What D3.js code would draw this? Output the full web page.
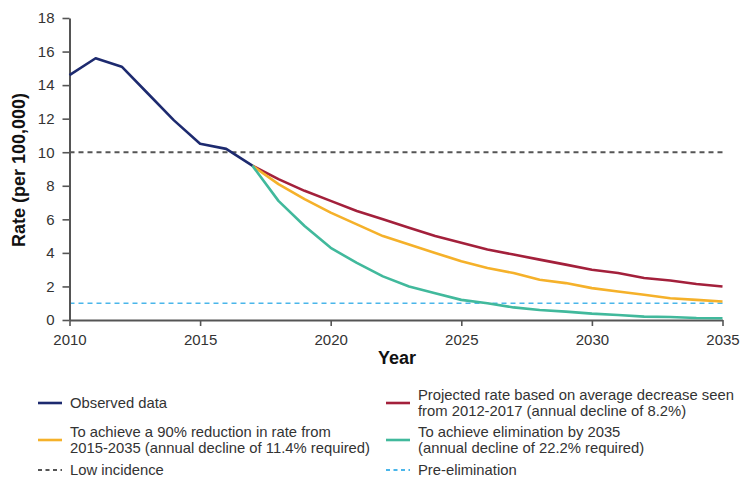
<!DOCTYPE html>
<html>
<head>
<meta charset="utf-8">
<script src="https://cdn.jsdelivr.net/npm/d3@7"></script>
<style>
  html, body { margin: 0; padding: 0; background: #fff; }
  svg { display: block; font-family: "Liberation Sans", Arial, Helvetica, sans-serif; }
</style>
</head>
<body>
<svg id="chart" width="744" height="477"></svg>
<script>
const observedYears = [2010, 2011, 2012, 2013, 2014, 2015, 2016, 2017];
const observedRates = [14.6, 15.6, 15.1, 13.5, 11.9, 10.5, 10.2, 9.2];

const projYears = [2017, 2018, 2019, 2020, 2021, 2022, 2023, 2024, 2025, 2026, 2027, 2028, 2029, 2030, 2031, 2032, 2033, 2034, 2035];
const projectedRates = [9.2, 8.4, 7.7, 7.1, 6.5, 6.0, 5.5, 5.0, 4.6, 4.2, 3.9, 3.6, 3.3, 3.0, 2.8, 2.5, 2.35, 2.15, 2.0];
const reduction90Rates = [9.2, 8.1, 7.2, 6.4, 5.7, 5.0, 4.5, 4.0, 3.5, 3.1, 2.8, 2.4, 2.2, 1.9, 1.7, 1.5, 1.3, 1.2, 1.1];
const eliminationRates = [9.2, 7.1, 5.6, 4.3, 3.4, 2.6, 2.0, 1.6, 1.2, 1.0, 0.75, 0.6, 0.5, 0.38, 0.3, 0.2, 0.18, 0.12, 0.1];

const lowIncidence = 10;
const preElimination = 1;

const xTicks = [2010, 2015, 2020, 2025, 2030, 2035];
const yTicks = [0, 2, 4, 6, 8, 10, 12, 14, 16, 18];

const legendLabels = [
  ["Observed data"],
  ["Projected rate based on average decrease seen", "from 2012-2017 (annual decline of 8.2%)"],
  ["To achieve a 90% reduction in rate from", "2015-2035 (annual decline of 11.4% required)"],
  ["To achieve elimination by 2035", "(annual decline of 22.2% required)"],
  ["Low incidence"],
  ["Pre-elimination"]
];

const C = {
  observed: "#1d2a6f",
  projected: "#a3203b",
  reduction: "#f5b12a",
  elimination: "#41b99c",
  low: "#555555",
  pre: "#4ab6ea",
  axis: "#555555",
  text: "#333333"
};

const svg = d3.select("#chart");
const x = d3.scaleLinear().domain([2010, 2035]).range([69.5, 722.5]);
const y = d3.scaleLinear().domain([0, 18]).range([320, 18]);

// Reference lines
svg.append("line")
  .attr("x1", x(2010)).attr("x2", x(2035))
  .attr("y1", y(lowIncidence)).attr("y2", y(lowIncidence))
  .attr("stroke", C.low).attr("stroke-width", 2).attr("stroke-dasharray", "5,4");
svg.append("line")
  .attr("x1", x(2010)).attr("x2", x(2035))
  .attr("y1", y(preElimination)).attr("y2", y(preElimination))
  .attr("stroke", C.pre).attr("stroke-width", 1.6).attr("stroke-dasharray", "5,4");

// Axes
const yAxis = svg.append("g").attr("transform", `translate(${x(2010)},0)`)
  .call(d3.axisLeft(y).tickValues(yTicks).tickSize(7).tickPadding(8).tickSizeOuter(0));
const xAxis = svg.append("g").attr("transform", `translate(0,${y(0)})`)
  .call(d3.axisBottom(x).tickValues(xTicks).tickFormat(d3.format("d")).tickSize(6).tickPadding(8).tickSizeOuter(0));
[yAxis, xAxis].forEach(g => {
  g.select(".domain").attr("stroke", C.axis).attr("stroke-width", 2);
  g.selectAll(".tick line").attr("stroke", C.axis).attr("stroke-width", 1.6);
  g.selectAll(".tick text").attr("fill", C.text).style("font-size", "15px")
    .style("font-family", "'Liberation Sans', Arial, sans-serif");
});

// Lines
const line = d3.line().x(d => x(d[0])).y(d => y(d[1]));
function drawSeries(years, vals, color) {
  svg.append("path")
    .datum(years.map((yr, i) => [yr, vals[i]]))
    .attr("d", line)
    .attr("fill", "none")
    .attr("stroke", color)
    .attr("stroke-width", 2.6)
    .attr("stroke-linejoin", "round");
}
drawSeries(projYears, projectedRates, C.projected);
drawSeries(projYears, reduction90Rates, C.reduction);
drawSeries(projYears, eliminationRates, C.elimination);
drawSeries(observedYears, observedRates, C.observed);

// Axis titles
svg.append("text")
  .attr("x", 397).attr("y", 364)
  .attr("text-anchor", "middle")
  .attr("font-weight", "bold").attr("font-size", 18).attr("fill", "#111")
  .text("Year");
svg.append("text")
  .attr("transform", "translate(25,170) rotate(-90)")
  .attr("text-anchor", "middle")
  .attr("font-weight", "bold").attr("font-size", 18).attr("fill", "#111")
  .text("Rate (per 100,000)");

// Legend
const legendItems = [
  { col: 0, y: 403, color: C.observed, dash: null, labels: legendLabels[0] },
  { col: 1, y: 403, color: C.projected, dash: null, labels: legendLabels[1] },
  { col: 0, y: 440, color: C.reduction, dash: null, labels: legendLabels[2] },
  { col: 1, y: 440, color: C.elimination, dash: null, labels: legendLabels[3] },
  { col: 0, y: 470, color: C.low, dash: "4,3.5", labels: legendLabels[4] },
  { col: 1, y: 470, color: C.pre, dash: "4,3.5", labels: legendLabels[5] }
];
const colX = [38, 386];
const lg = svg.append("g");
legendItems.forEach(it => {
  const x0 = colX[it.col];
  lg.append("line")
    .attr("x1", x0).attr("x2", x0 + 24)
    .attr("y1", it.y).attr("y2", it.y)
    .attr("stroke", it.color)
    .attr("stroke-width", it.dash ? 2 : 2.6)
    .attr("stroke-dasharray", it.dash);
  const n = it.labels.length;
  const lh = 15.5;
  it.labels.forEach((t, i) => {
    lg.append("text")
      .attr("x", x0 + 32)
      .attr("y", it.y + (i - (n - 1) / 2) * lh)
      .attr("dy", "0.35em")
      .attr("font-size", 14.8)
      .attr("fill", C.text)
      .text(t);
  });
});
</script>
</body>
</html>
